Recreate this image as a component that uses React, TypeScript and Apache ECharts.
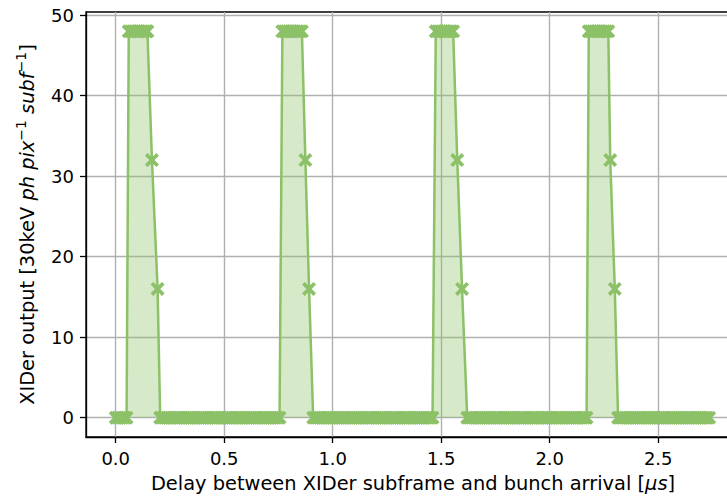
import React, { useEffect, useRef } from "react";
import * as echarts from "echarts";

// Tick values
const xTicks = [0, 0.5, 1.0, 1.5, 2.0, 2.5];
const yTicks = [0, 10, 20, 30, 40, 50];

// Delay scan [µs] where the XIDer output was 0 (baseline samples)
const base0 = [0.0, 0.01, 0.02, 0.03, 0.04, 0.05];
const base1 = [
  0.205, 0.215, 0.225, 0.235, 0.245, 0.255, 0.265, 0.275, 0.285, 0.295,
  0.305, 0.315, 0.325, 0.335, 0.345, 0.355, 0.365, 0.375, 0.385, 0.395,
  0.405, 0.415, 0.425, 0.435, 0.445, 0.455, 0.465, 0.475, 0.485, 0.495,
  0.505, 0.515, 0.525, 0.535, 0.545, 0.555, 0.565, 0.575, 0.585, 0.595,
  0.605, 0.615, 0.625, 0.635, 0.645, 0.655, 0.665, 0.675, 0.685, 0.695,
  0.705, 0.715, 0.725, 0.735, 0.745, 0.755,
];
const base2 = [
  0.91, 0.92, 0.93, 0.94, 0.95, 0.96, 0.97, 0.98, 0.99,
  1.0, 1.01, 1.02, 1.03, 1.04, 1.05, 1.06, 1.07, 1.08, 1.09,
  1.1, 1.11, 1.12, 1.13, 1.14, 1.15, 1.16, 1.17, 1.18, 1.19,
  1.2, 1.21, 1.22, 1.23, 1.24, 1.25, 1.26, 1.27, 1.28, 1.29,
  1.3, 1.31, 1.32, 1.33, 1.34, 1.35, 1.36, 1.37, 1.38, 1.39,
  1.4, 1.41, 1.42, 1.43, 1.44, 1.45, 1.46,
];
const base3 = [
  1.62, 1.63, 1.64, 1.65, 1.66, 1.67, 1.68, 1.69,
  1.7, 1.71, 1.72, 1.73, 1.74, 1.75, 1.76, 1.77, 1.78, 1.79,
  1.8, 1.81, 1.82, 1.83, 1.84, 1.85, 1.86, 1.87, 1.88, 1.89,
  1.9, 1.91, 1.92, 1.93, 1.94, 1.95, 1.96, 1.97, 1.98, 1.99,
  2.0, 2.01, 2.02, 2.03, 2.04, 2.05, 2.06, 2.07, 2.08, 2.09,
  2.1, 2.11, 2.12, 2.13, 2.14, 2.15, 2.16, 2.17,
];
const base4 = [
  2.315, 2.325, 2.335, 2.345, 2.355, 2.365, 2.375, 2.385, 2.395,
  2.405, 2.415, 2.425, 2.435, 2.445, 2.455, 2.465, 2.475, 2.485, 2.495,
  2.505, 2.515, 2.525, 2.535, 2.545, 2.555, 2.565, 2.575, 2.585, 2.595,
  2.605, 2.615, 2.625, 2.635, 2.645, 2.655, 2.665, 2.675, 2.685, 2.695,
  2.705, 2.715, 2.725, 2.735,
];

// Pulse samples: [delay µs, output]
const pulse1: [number, number][] = [
  [0.06, 48], [0.07, 48], [0.08, 48], [0.09, 48], [0.1, 48], [0.11, 48],
  [0.12, 48], [0.13, 48], [0.14, 48], [0.146, 48], [0.167, 32], [0.193, 16],
];
const pulse2: [number, number][] = [
  [0.768, 48], [0.778, 48], [0.788, 48], [0.798, 48], [0.808, 48], [0.818, 48],
  [0.828, 48], [0.838, 48], [0.848, 48], [0.858, 48], [0.874, 32], [0.891, 16],
];
const pulse3: [number, number][] = [
  [1.475, 48], [1.485, 48], [1.495, 48], [1.505, 48], [1.515, 48], [1.525, 48],
  [1.535, 48], [1.545, 48], [1.555, 48], [1.574, 32], [1.596, 16],
];
const pulse4: [number, number][] = [
  [2.18, 48], [2.19, 48], [2.2, 48], [2.21, 48], [2.22, 48], [2.23, 48],
  [2.24, 48], [2.25, 48], [2.26, 48], [2.27, 48], [2.279, 32], [2.3, 16],
];

const zeros = (xs: number[]): [number, number][] => xs.map((x) => [x, 0]);

const scan: [number, number][] = [
  ...zeros(base0),
  ...pulse1,
  ...zeros(base1),
  ...pulse2,
  ...zeros(base2),
  ...pulse3,
  ...zeros(base3),
  ...pulse4,
  ...zeros(base4),
];

const GREEN = "#8cc168";
const FONT = "DejaVu Sans";
const FS = 18;
const TFS = 19.4;
const XMARK =
  "path://M0,1.9L1.9,0L5,3.1L8.1,0L10,1.9L6.9,5L10,8.1L8.1,10L5,6.9L1.9,10L0,8.1L3.1,5Z";

export default function App() {
  const ref = useRef<HTMLDivElement>(null);
  useEffect(() => {
    const chart = echarts.init(ref.current!, null, { renderer: "svg" });
    chart.setOption({
      animation: false,
      backgroundColor: "#ffffff",
      grid: {
        left: 86,
        top: 12,
        width: 654,
        bottom: 59,
        containLabel: false,
        outerBoundsMode: "none",
        show: true,
        borderColor: "#000000",
        borderWidth: 1.3,
        backgroundColor: "transparent",
      },
      xAxis: {
        type: "value",
        min: -0.137,
        max: 2.877,
        name: "Delay between XIDer subframe and bunch arrival [{i|μs}]",
        nameLocation: "middle",
        nameGap: 37,
        nameTextStyle: {
          fontFamily: FONT,
          fontSize: TFS,
          color: "#000",
          rich: { i: { fontFamily: FONT, fontSize: TFS, fontStyle: "italic", color: "#000" } },
        },
        axisLine: { show: true, onZero: false, lineStyle: { color: "#000", width: 1.3 } },
        axisTick: {
          show: true,
          length: 6,
          inside: false,
          customValues: xTicks,
          lineStyle: { color: "#000", width: 1.3 },
        },
        axisLabel: {
          customValues: xTicks,
          margin: 12,
          fontFamily: FONT,
          fontSize: FS,
          color: "#000",
          formatter: (v: number) => v.toFixed(1),
        },
        splitLine: { show: true, lineStyle: { color: "#b0b0b0", width: 1.4 } },
      },
      yAxis: {
        type: "value",
        min: -2.4,
        max: 50.4,
        name: "XIDer output [30keV {i|ph pix}{sup|−1} {i|subf}{sup|−1}]",
        nameLocation: "middle",
        nameGap: 44,
        nameTextStyle: {
          fontFamily: FONT,
          fontSize: TFS,
          color: "#000",
          lineHeight: 26,
          rich: {
            i: { fontFamily: FONT, fontSize: TFS, fontStyle: "italic", color: "#000", lineHeight: 26 },
            sup: { fontFamily: FONT, fontSize: 14, color: "#000", verticalAlign: "top", lineHeight: 26 },
          },
        },
        axisLine: { show: true, onZero: false, lineStyle: { color: "#000", width: 1.3 } },
        axisTick: {
          show: true,
          length: 6,
          inside: false,
          customValues: yTicks,
          lineStyle: { color: "#000", width: 1.3 },
        },
        axisLabel: {
          customValues: yTicks,
          margin: 12,
          fontFamily: FONT,
          fontSize: FS,
          color: "#000",
        },
        splitLine: { show: true, lineStyle: { color: "#b0b0b0", width: 1.4 } },
      },
      series: [
        {
          type: "line",
          data: scan,
          symbol: XMARK,
          symbolSize: 14,
          showAllSymbol: true,
          clip: true,
          lineStyle: { color: GREEN, width: 2.5 },
          itemStyle: { color: GREEN, borderWidth: 0 },
          areaStyle: { color: GREEN, opacity: 0.36, origin: 0 },
          emphasis: { disabled: true },
        },
      ],
    });
    return () => chart.dispose();
  }, []);
  return (
    <div
      ref={ref}
      style={{ position: "fixed", left: 0, top: 0, width: 727, height: 496 }}
    />
  );
}
